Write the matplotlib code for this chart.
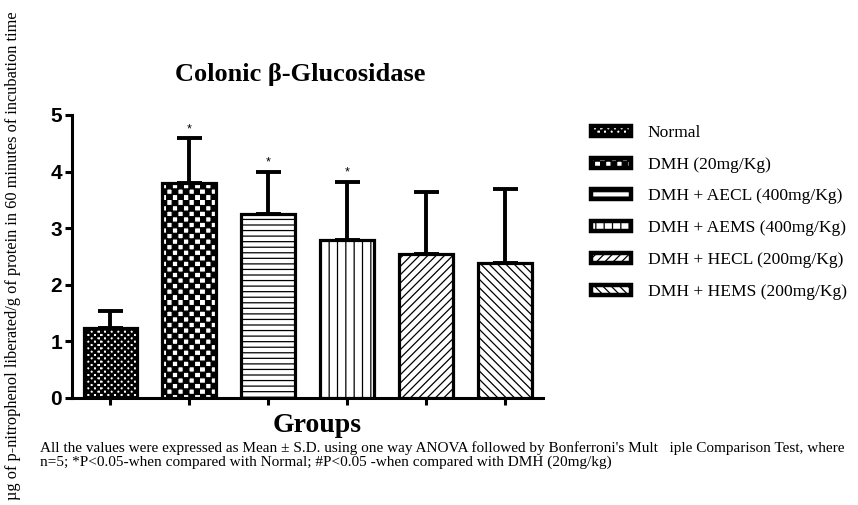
import numpy as np
import matplotlib
matplotlib.use("Agg")
import matplotlib.pyplot as plt
import matplotlib.hatch as mhatch
from matplotlib.path import Path
from matplotlib.patches import Rectangle

# ---------------- data ----------------
groups = ["Normal", "DMH (20mg/Kg)", "DMH + AECL (400mg/Kg)",
          "DMH + AEMS (400mg/Kg)", "DMH + HECL (200mg/Kg)", "DMH + HEMS (200mg/Kg)"]
means = [1.24, 3.80, 3.25, 2.79, 2.54, 2.38]
sds = [0.30, 0.79, 0.75, 1.03, 1.10, 1.31]
signif = ["", "*", "*", "*", "", ""]
yticks = [0, 1, 2, 3, 4, 5]
hatches = ["*****", "***", "---", "||", "////", "\\\\\\\\"]


# ---------------- custom checkerboard hatch (replaces the star hatch) ----------------
class CheckerHatch(mhatch.HatchPatternBase):
    filled = True

    def __init__(self, hatch, density):
        n = int(hatch.count('*') * density)
        if n % 2:
            n += 1
        self.n = n
        self.cells = [(i, j) for i in range(n) for j in range(n) if (i + j) % 2 == 0]
        self.num_vertices = len(self.cells) * 5 if n else 0

    def set_vertices_and_codes(self, vertices, codes):
        s = 1.0 / self.n
        k = 0
        for i, j in self.cells:
            x0, y0 = i * s, j * s
            vertices[k:k + 5] = [(x0, y0), (x0 + s, y0), (x0 + s, y0 + s), (x0, y0 + s), (x0, y0)]
            codes[k:k + 5] = [Path.MOVETO, Path.LINETO, Path.LINETO, Path.LINETO, Path.CLOSEPOLY]
            k += 5


mhatch._hatch_types = [CheckerHatch if t is mhatch.Stars else t for t in mhatch._hatch_types]

plt.rcParams['hatch.linewidth'] = 0.9
plt.rcParams['hatch.color'] = 'black'

fig = plt.figure(figsize=(8.58, 5.05), dpi=100)
ax = fig.add_axes([71.7 / 858, 1 - 397.7 / 505, (543 - 71.7) / 858, (397.7 - 115) / 505])

x = np.arange(len(groups))
bars = ax.bar(x, means, width=0.68, color='white', edgecolor='black', linewidth=2.3, zorder=3)
for b, h in zip(bars, hatches):
    b.set_hatch(h)

ax.errorbar(x, means, yerr=[np.zeros(len(sds)), sds], fmt='none', ecolor='black',
            elinewidth=2.8, capsize=9, capthick=2.8, zorder=2)

for xi, m, s, t in zip(x, means, sds, signif):
    if t:
        ax.text(xi, m + s + 0.05, t, ha='center', va='bottom', fontsize=9,
                family='Liberation Sans')

ax.set_xlim(-0.49, 5.48)
ax.set_ylim(0, 5)
ax.set_yticks(yticks)
ax.set_yticklabels([str(v) for v in yticks], fontsize=15, fontweight='bold',
                   family='Liberation Sans')
ax.set_xticks(x)
ax.set_xticklabels([])
for sp in ['top', 'right']:
    ax.spines[sp].set_visible(False)
for sp in ['left', 'bottom']:
    ax.spines[sp].set_linewidth(2.2)
ax.tick_params(axis='both', width=2.2, length=5, direction='out')
ax.tick_params(axis='y', pad=2)

# title & labels
fig.text(300 / 858, 1 - 75 / 505, "Colonic β-Glucosidase", ha='center', va='center',
         fontsize=19, fontweight='bold', family='Liberation Serif')
fig.text(317 / 858, 1 - 425 / 505, "Groups", ha='center', va='center',
         fontsize=20, fontweight='bold', family='Liberation Serif')
fig.text(13 / 858, 1 - 256 / 505,
         "µg of p-nitrophenol liberated/g of protein in 60 minutes of incubation time",
         rotation=90, ha='center', va='center', fontsize=11.8, family='Liberation Serif')
fig.text(40 / 858, 1 - 441 / 505,
         "All the values were expressed as Mean ± S.D. using one way ANOVA followed by Bonferroni's Mult   iple Comparison Test, where\n"
         "n=5; *P<0.05-when compared with Normal; #P<0.05 -when compared with DMH (20mg/kg)",
         ha='left', va='top', fontsize=11, family='Liberation Serif', linespacing=1.05)

# legend
handles = [Rectangle((0, 0), 1, 1, facecolor='white', edgecolor='black', linewidth=3.2, hatch=h)
           for h in hatches]
fig.legend(handles, groups, loc='upper left', bbox_to_anchor=(591 / 858, 1 - 125 / 505),
           frameon=False, prop={'family': 'Liberation Serif', 'size': 12.6},
           handlelength=2.3, handleheight=0.5, handletextpad=0.95, labelspacing=0.9,
           borderpad=0, borderaxespad=0)

fig.savefig("out.png", dpi=100)
